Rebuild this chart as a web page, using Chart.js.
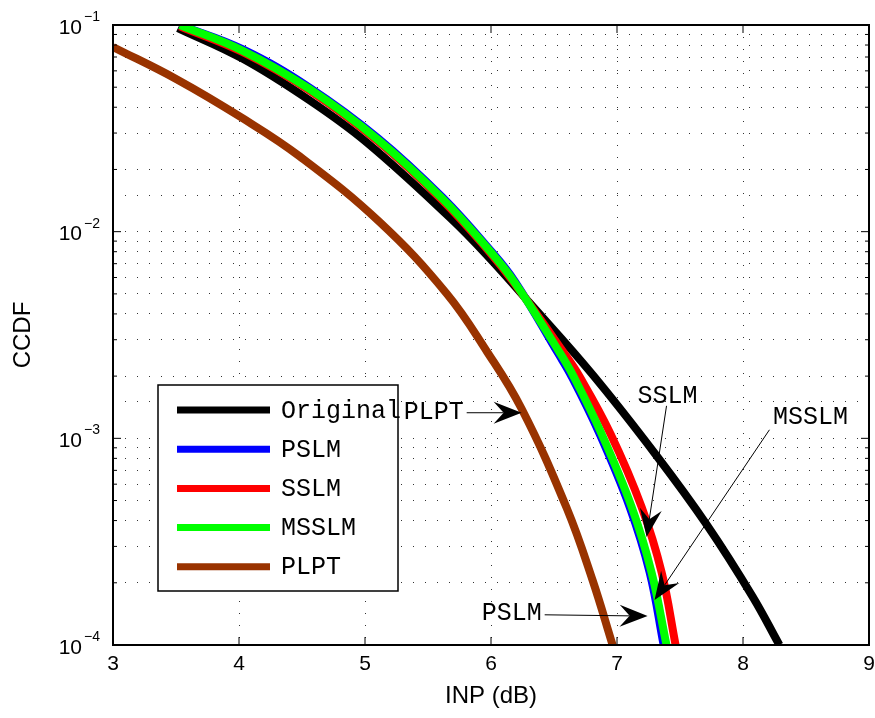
<!DOCTYPE html>
<html>
<head>
<meta charset="utf-8">
<script src="https://cdn.jsdelivr.net/npm/chart.js@4.4.0/dist/chart.umd.min.js"></script>
<style>
  html, body { margin: 0; padding: 0; background: #fff; }
  canvas { display: block; }
</style>
</head>
<body>
<canvas id="ccdf" width="875" height="718"></canvas>
<script>
// INP (dB) / CCDF pairs
const origX  = [3.515, 4.031, 4.562, 5.014, 5.672, 5.966, 6.307, 6.807, 7.314, 7.711, 8.075, 8.289];
const origY  = [0.0967, 0.0686, 0.0431, 0.0270, 0.01172, 0.00771, 0.00452, 0.00203, 0.000824, 0.000383, 0.000172, 0.0001];

const pslmX  = [3.53, 4.031, 4.562, 5.102, 5.617, 5.982, 6.188, 6.529, 6.640, 6.862, 7.100, 7.259, 7.370];
const pslmY  = [0.1, 0.0762, 0.0497, 0.0284, 0.01462, 0.00830, 0.00576, 0.00260, 0.00199, 0.00105, 0.000466, 0.000225, 0.0001];

const sslmX  = [3.53, 4.031, 4.562, 5.102, 5.617, 5.982, 6.188, 6.577, 6.703, 6.949, 7.195, 7.354, 7.465];
const sslmY  = [0.0985, 0.0738, 0.0481, 0.0274, 0.01414, 0.00805, 0.00560, 0.00260, 0.00199, 0.00105, 0.000466, 0.000225, 0.0001];

const msslmX = [3.531, 4.031, 4.562, 5.102, 5.617, 5.982, 6.188, 6.545, 6.656, 6.878, 7.116, 7.274, 7.393];
const msslmY = [0.1, 0.0750, 0.0489, 0.0279, 0.01439, 0.00818, 0.00568, 0.00260, 0.00199, 0.00105, 0.000466, 0.000225, 0.0001];

const plptX  = [3.0, 3.508, 4.031, 4.483, 5.117, 5.649, 5.966, 6.243, 6.600, 6.806, 6.965];
const plptY  = [0.0783, 0.0545, 0.0353, 0.0231, 0.01112, 0.00501, 0.00264, 0.00139, 0.000461, 0.000206, 0.0001];

const seriesNames  = ['Original', 'PSLM', 'SSLM', 'MSSLM', 'PLPT'];
const seriesX      = [origX, pslmX, sslmX, msslmX, plptX];
const seriesY      = [origY, pslmY, sslmY, msslmY, plptY];
const seriesColors = ['#000000', '#0000ff', '#ff0000', '#00ff00', '#993300'];

const xTicks   = [3, 4, 5, 6, 7, 8, 9];
const yDecades = [-4, -3, -2, -1];

// text + arrow callouts, in data units
const callouts = [
  { text: 'PLPT',  tx: 5.545, ty: 1.33e-3, x0: 5.807, y0: 1.33e-3, x1: 6.243, y1: 1.33e-3 },
  { text: 'SSLM',  tx: 7.40,  ty: 1.60e-3, x0: 7.393, y0: 1.436e-3, x1: 7.235, y1: 3.33e-4 },
  { text: 'MSSLM', tx: 8.535, ty: 1.27e-3, x0: 8.210, y0: 1.10e-3, x1: 7.298, y1: 1.65e-4 },
  { text: 'PSLM',  tx: 6.164, ty: 1.43e-4, x0: 6.426, y0: 1.40e-4, x1: 7.243, y1: 1.38e-4 }
];

const monoFont = "25px 'Liberation Mono', 'Courier New', monospace";
const sansFont = "'Liberation Sans', Arial, sans-serif";

function arrowHead(ctx, x0, y0, x1, y1) {
  const a = Math.atan2(y1 - y0, x1 - x0);
  ctx.save();
  ctx.translate(x1, y1);
  ctx.rotate(a);
  ctx.beginPath();
  ctx.moveTo(0, 0);
  ctx.lineTo(-28, -11);
  ctx.lineTo(-18, 0);
  ctx.lineTo(-28, 11);
  ctx.closePath();
  ctx.fill();
  ctx.restore();
}

const matlabAxes = {
  id: 'matlabAxes',
  afterDraw(chart) {
    const { ctx, chartArea: a, scales: { x, y } } = chart;
    ctx.save();

    // ticks, inward on all four sides
    ctx.strokeStyle = '#000';
    ctx.lineWidth = 1;
    ctx.beginPath();
    xTicks.forEach(v => {
      const px = x.getPixelForValue(v);
      ctx.moveTo(px, a.bottom); ctx.lineTo(px, a.bottom - 8);
      ctx.moveTo(px, a.top); ctx.lineTo(px, a.top + 8);
    });
    yDecades.forEach(e => {
      for (let m = 1; m <= 9; m++) {
        const v = m * Math.pow(10, e);
        if (v > 0.1 + 1e-12) break;
        const py = y.getPixelForValue(v);
        const len = m === 1 ? 8 : 4;
        ctx.moveTo(a.left, py); ctx.lineTo(a.left + len, py);
        ctx.moveTo(a.right, py); ctx.lineTo(a.right - len, py);
      }
    });
    ctx.stroke();

    // box
    ctx.lineWidth = 2;
    ctx.strokeRect(a.left, a.top, a.right - a.left, a.bottom - a.top);

    // tick labels
    ctx.fillStyle = '#000';
    ctx.font = '21px ' + sansFont;
    ctx.textAlign = 'center';
    ctx.textBaseline = 'middle';
    xTicks.forEach(v => ctx.fillText(String(v), x.getPixelForValue(v), a.bottom + 19));

    yDecades.forEach(e => {
      const py = y.getPixelForValue(Math.pow(10, e));
      ctx.font = '21px ' + sansFont;
      ctx.textAlign = 'right';
      ctx.fillText('10', 82, py + 3);
      ctx.font = '14px ' + sansFont;
      ctx.textAlign = 'left';
      ctx.fillText('\u2212' + Math.abs(e), 84, py - 8);
    });

    // axis titles
    ctx.font = '24px ' + sansFont;
    ctx.textAlign = 'center';
    ctx.fillText('INP (dB)', (a.left + a.right) / 2, 696);
    ctx.save();
    ctx.translate(23, (a.top + a.bottom) / 2);
    ctx.rotate(-Math.PI / 2);
    ctx.fillText('CCDF', 0, 0);
    ctx.restore();

    // legend
    ctx.fillStyle = '#fff';
    ctx.fillRect(158, 385, 240, 206);
    ctx.strokeStyle = '#000';
    ctx.lineWidth = 1.5;
    ctx.strokeRect(158, 385, 240, 206);
    ctx.font = monoFont;
    ctx.textAlign = 'left';
    seriesNames.forEach((name, i) => {
      const ry = 410 + i * 39.2;
      ctx.strokeStyle = seriesColors[i];
      ctx.lineWidth = 7;
      ctx.beginPath();
      ctx.moveTo(177, ry); ctx.lineTo(270, ry);
      ctx.stroke();
      ctx.fillStyle = '#000';
      ctx.fillText(name, 281, ry + 1);
    });

    // callouts
    ctx.fillStyle = '#000';
    ctx.strokeStyle = '#000';
    ctx.lineWidth = 1;
    ctx.textAlign = 'center';
    callouts.forEach(c => {
      const x0 = x.getPixelForValue(c.x0), y0 = y.getPixelForValue(c.y0);
      const x1 = x.getPixelForValue(c.x1), y1 = y.getPixelForValue(c.y1);
      const d = Math.hypot(x1 - x0, y1 - y0);
      const k = (d - 18) / d;
      ctx.beginPath();
      ctx.moveTo(x0, y0);
      ctx.lineTo(x0 + (x1 - x0) * k, y0 + (y1 - y0) * k);
      ctx.stroke();
      arrowHead(ctx, x0, y0, x1, y1);
      ctx.fillText(c.text, x.getPixelForValue(c.tx), y.getPixelForValue(c.ty));
    });

    ctx.restore();
  }
};

const dotted = 'rgba(0,0,0,0.8)';

new Chart(document.getElementById('ccdf'), {
  type: 'line',
  data: {
    datasets: seriesNames.map((name, i) => ({
      label: name,
      data: seriesX[i].map((v, k) => ({ x: v, y: seriesY[i][k] })),
      borderColor: seriesColors[i],
      backgroundColor: seriesColors[i],
      borderWidth: 8,
      borderCapStyle: 'butt',
      borderJoinStyle: 'round',
      pointRadius: 0,
      fill: false,
      tension: 0.4,
      order: seriesNames.length - i
    }))
  },
  options: {
    responsive: false,
    animation: false,
    devicePixelRatio: 1,
    layout: { padding: { left: 113, right: 6, top: 25, bottom: 73 } },
    plugins: { legend: { display: false }, tooltip: { enabled: false } },
    scales: {
      x: {
        type: 'linear', min: 3, max: 9,
        ticks: { display: false, stepSize: 1 },
        grid: {
          drawTicks: false, lineWidth: 1,
          color: c => (c.tick && c.tick.value > 3 && c.tick.value < 9) ? dotted : 'transparent'
        },
        border: { display: false, dash: [1, 11] },
        afterFit: s => { s.height = 0; }
      },
      y: {
        type: 'logarithmic', min: 1e-4, max: 1e-1,
        ticks: { display: false },
        grid: {
          drawTicks: false, lineWidth: 1,
          color: c => (c.tick && c.tick.value > 1.0001e-4 && c.tick.value < 0.0999) ? dotted : 'transparent'
        },
        border: { display: false, dash: [1, 11] },
        afterFit: s => { s.width = 0; }
      }
    }
  },
  plugins: [matlabAxes]
});
</script>
</body>
</html>
